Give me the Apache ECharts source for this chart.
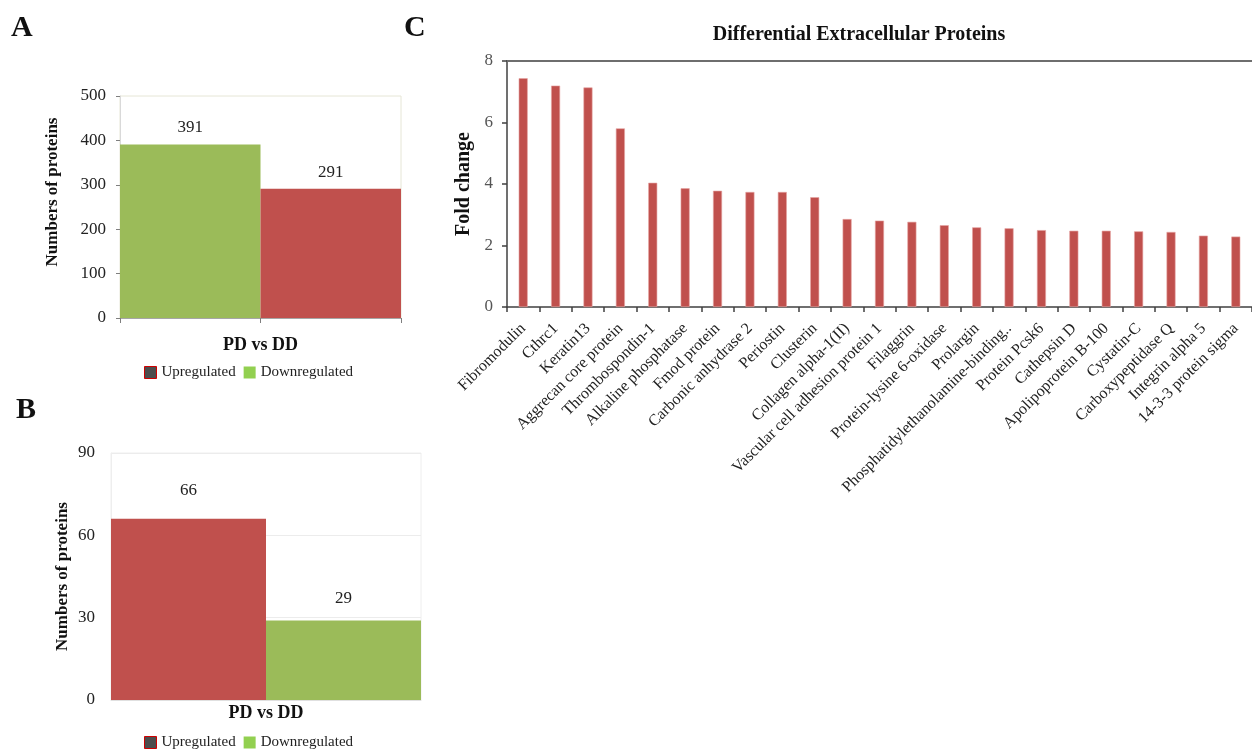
<!DOCTYPE html>
<html>
<head>
<meta charset="utf-8">
<script src="https://cdn.jsdelivr.net/npm/echarts@6/dist/echarts.min.js"></script>
<style>
  html, body { margin: 0; padding: 0; background: #fff; }
  #main { width: 1252px; height: 750px; }
</style>
</head>
<body>
<div id="main"></div>
<script>
// panel A / B : counts of proteins
const groupLabel = ['PD vs DD'];
const aDown = [391];
const aUp = [291];
const bUp = [66];
const bDown = [29];

// panel C : fold change of extracellular proteins
const proteins = [
  'Fibromodulin', 'Cthrc1', 'Keratin13', 'Aggrecan core protein', 'Thrombospondin-1',
  'Alkaline phosphatase', 'Fmod protein', 'Carbonic anhydrase 2', 'Periostin', 'Clusterin',
  'Collagen alpha-1(II)', 'Vascular cell adhesion protein 1', 'Filaggrin',
  'Protein-lysine 6-oxidase', 'Prolargin', 'Phosphatidylethanolamine-binding..',
  'Protein Pcsk6', 'Cathepsin D', 'Apolipoprotein B-100', 'Cystatin-C',
  'Carboxypeptidase Q', 'Integrin alpha 5', '14-3-3 protein sigma'
];
const foldChange = [
  7.44, 7.20, 7.14, 5.81, 4.04, 3.86, 3.78, 3.74, 3.74, 3.57,
  2.86, 2.81, 2.77, 2.66, 2.59, 2.56, 2.50, 2.48, 2.48, 2.46,
  2.44, 2.32, 2.29
];

const RED = '#c0504d';
const GREEN = '#9bbb59';
const FONT = '"Liberation Serif", "Times New Roman", serif';

const chart = echarts.init(document.getElementById('main'));

const legendData = [
  { name: 'Upregulated', itemStyle: { color: '#4d4d4d', borderColor: '#d00000', borderWidth: 1 } },
  { name: 'Downregulated', itemStyle: { color: '#92d050' } }
];
const legendCommon = {
  data: legendData,
  icon: 'rect',
  itemWidth: 12,
  itemHeight: 12,
  itemGap: 8,
  textStyle: { fontFamily: FONT, fontSize: 15, color: '#222' },
  selectedMode: false
};

const valueLabel = (dist) => ({
  show: true, position: 'top', distance: dist,
  fontFamily: FONT, fontSize: 17, color: '#222'
});

const letterStyle = { fontFamily: FONT, fontSize: 30, fontWeight: 'bold', color: '#111' };

chart.setOption({
  animation: false,
  textStyle: { fontFamily: FONT },
  title: [
    { text: 'A', left: 6, top: 8, textStyle: letterStyle },
    { text: 'B', left: 11, top: 390, textStyle: letterStyle },
    { text: 'C', left: 399, top: 8, textStyle: letterStyle },
    { text: 'Differential Extracellular Proteins', left: 854, top: 20, textAlign: 'center',
      textStyle: { fontFamily: FONT, fontSize: 20, fontWeight: 'bold', color: '#111' } }
  ],
  legend: [
    Object.assign({ left: 139, top: 360 }, legendCommon),
    Object.assign({ left: 139, top: 730 }, legendCommon)
  ],
  grid: [
    { left: 120, top: 96, width: 281, height: 222, show: true, borderColor: '#e6e6d6', borderWidth: 1 },
    { left: 111, top: 453, width: 310, height: 247, show: true, borderColor: '#eeeeee', borderWidth: 1 },
    { left: 507, top: 61, width: 748, height: 246, show: false }
  ],
  xAxis: [
    {
      gridIndex: 0, type: 'category', data: groupLabel,
      axisLine: { lineStyle: { color: '#a6a6a6' } },
      axisTick: { show: false },
      axisLabel: { margin: 18, fontFamily: FONT, fontSize: 18, fontWeight: 'bold', color: '#111' }
    },
    {
      // tick marks only, splitting the two bars of panel A
      gridIndex: 0, type: 'category', data: ['', ''], position: 'bottom',
      axisLine: { show: false },
      axisTick: { show: true, length: 5, lineStyle: { color: '#7f7f7f' } },
      axisLabel: { show: false }
    },
    {
      gridIndex: 1, type: 'category', data: groupLabel,
      axisLine: { lineStyle: { color: '#e0e0e0' } },
      axisTick: { show: false },
      axisLabel: { margin: 4, fontFamily: FONT, fontSize: 18, fontWeight: 'bold', color: '#111' }
    },
    {
      gridIndex: 2, type: 'category', data: proteins,
      axisLine: { lineStyle: { color: '#404040', width: 1.5 } },
      axisTick: { show: true, length: 5, lineStyle: { color: '#404040', width: 1.5 } },
      axisLabel: { interval: 0, rotate: 45, margin: 19, fontFamily: FONT, fontSize: 16, color: '#222' }
    },
    {
      // top frame line of panel C
      gridIndex: 2, type: 'category', data: proteins, position: 'top',
      axisLine: { lineStyle: { color: '#6e6e6e', width: 2 } },
      axisTick: { show: false },
      axisLabel: { show: false }
    }
  ],
  yAxis: [
    {
      gridIndex: 0, type: 'value', min: 0, max: 500, interval: 100,
      name: 'Numbers of proteins', nameLocation: 'middle', nameGap: 59,
      nameTextStyle: { fontFamily: FONT, fontSize: 17, fontWeight: 'bold', color: '#111', padding: [0, 0, 0, 30] },
      axisLine: { show: true, lineStyle: { color: '#d9d9d9' } },
      axisTick: { show: true, length: 4, lineStyle: { color: '#7f7f7f' } },
      axisLabel: { margin: 14, fontFamily: FONT, fontSize: 17, color: '#222' },
      splitLine: { show: false }
    },
    {
      gridIndex: 1, type: 'value', min: 0, max: 90, interval: 30,
      name: 'Numbers of proteins', nameLocation: 'middle', nameGap: 40,
      nameTextStyle: { fontFamily: FONT, fontSize: 17, fontWeight: 'bold', color: '#111' },
      axisLine: { show: true, lineStyle: { color: '#eeeeee' } },
      axisTick: { show: false },
      axisLabel: { margin: 16, fontFamily: FONT, fontSize: 17, color: '#222' },
      splitLine: { show: true, lineStyle: { color: '#ececec' } }
    },
    {
      gridIndex: 2, type: 'value', min: 0, max: 8, interval: 2,
      name: 'Fold change', nameLocation: 'middle', nameGap: 21,
      nameTextStyle: { fontFamily: FONT, fontSize: 20, fontWeight: 'bold', color: '#111' },
      axisLine: { show: true, lineStyle: { color: '#404040', width: 1.5 } },
      axisTick: { show: true, length: 5, lineStyle: { color: '#404040', width: 1.5 } },
      axisLabel: { margin: 14, fontFamily: FONT, fontSize: 17, color: '#555' },
      splitLine: { show: false }
    }
  ],
  series: [
    { name: 'Downregulated', type: 'bar', xAxisIndex: 0, yAxisIndex: 0, data: aDown,
      barGap: '0%', barCategoryGap: '0%', itemStyle: { color: GREEN }, label: valueLabel(8) },
    { name: 'Upregulated', type: 'bar', xAxisIndex: 0, yAxisIndex: 0, data: aUp,
      barGap: '0%', barCategoryGap: '0%', itemStyle: { color: RED }, label: valueLabel(8) },
    { name: 'Upregulated', type: 'bar', xAxisIndex: 2, yAxisIndex: 1, data: bUp,
      barGap: '0%', barCategoryGap: '0%', itemStyle: { color: RED }, label: valueLabel(20) },
    { name: 'Downregulated', type: 'bar', xAxisIndex: 2, yAxisIndex: 1, data: bDown,
      barGap: '0%', barCategoryGap: '0%', itemStyle: { color: GREEN }, label: valueLabel(13) },
    { name: 'Fold change', type: 'bar', xAxisIndex: 3, yAxisIndex: 2, data: foldChange,
      barWidth: 9, itemStyle: { color: RED, borderColor: '#e6a5a3', borderWidth: 0.6 } }
  ]
});
</script>
</body>
</html>
